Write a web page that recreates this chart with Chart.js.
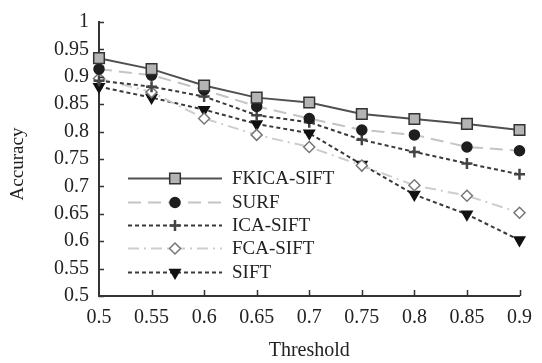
<!DOCTYPE html>
<html>
<head>
<meta charset="utf-8">
<script src="https://cdn.jsdelivr.net/npm/chart.js@4"></script>
<style>
  html, body { margin: 0; padding: 0; background: #fff; }
  #wrap { width: 542px; height: 363px; }
</style>
</head>
<body>
<div id="wrap"><canvas id="chart" width="542" height="363"></canvas></div>
<script>
// data
const thresholds = ['0.5', '0.55', '0.6', '0.65', '0.7', '0.75', '0.8', '0.85', '0.9'];
const yTickLabels = ['0.5', '0.55', '0.6', '0.65', '0.7', '0.75', '0.8', '0.85', '0.9', '0.95', '1'];
const fkicaSift = [0.934, 0.914, 0.884, 0.862, 0.853, 0.832, 0.823, 0.814, 0.803];
const surf = [0.914, 0.903, 0.876, 0.846, 0.824, 0.803, 0.794, 0.772, 0.765];
const icaSift = [0.893, 0.882, 0.864, 0.830, 0.817, 0.785, 0.763, 0.742, 0.722];
const fcaSift = [0.897, 0.872, 0.824, 0.794, 0.772, 0.738, 0.702, 0.683, 0.652];
const sift = [0.882, 0.862, 0.840, 0.814, 0.797, 0.740, 0.685, 0.649, 0.602];

const FONT = '"Liberation Serif", "Times New Roman", serif';
const TEXT = '#222';

const series = [
  { label: 'FKICA-SIFT', data: fkicaSift, line: '#505050', dash: [], width: 2,
    marker: 'rect', radius: 7.5, fill: '#b4b4b4', edge: '#333', rot: 0 },
  { label: 'SURF', data: surf, line: '#c4c4c4', dash: [13, 7], width: 2,
    marker: 'circle', radius: 5, fill: '#1e1e1e', edge: '#1e1e1e', rot: 0 },
  { label: 'ICA-SIFT', data: icaSift, line: '#3a3a3a', dash: [4, 3], width: 2,
    marker: 'cross', radius: 5.5, fill: '#444', edge: '#444', rot: 0 },
  { label: 'FCA-SIFT', data: fcaSift, line: '#cdcdcd', dash: [11, 5, 2, 5], width: 2,
    marker: 'rectRot', radius: 5.5, fill: '#fff', edge: '#777', rot: 0 },
  { label: 'SIFT', data: sift, line: '#3a3a3a', dash: [4, 3], width: 2,
    marker: 'triangle', radius: 6, fill: '#111', edge: '#111', rot: 180 }
];

// little ticks pointing into the plot + the rotated y title
const innerTicks = {
  id: 'innerTicks',
  afterDraw(chart) {
    const ctx = chart.ctx;
    const xs = chart.scales.x, ys = chart.scales.y;
    const a = chart.chartArea;
    ctx.save();
    ctx.strokeStyle = '#333';
    ctx.lineWidth = 1.5;
    ctx.beginPath();
    yTickLabels.forEach(t => {
      const py = Math.round(ys.getPixelForValue(parseFloat(t))) + 0.5;
      ctx.moveTo(a.left, py);
      ctx.lineTo(a.left + 5, py);
    });
    thresholds.forEach((t, i) => {
      if (i === 0) return;
      const px = Math.round(xs.getPixelForValue(i)) + 0.5;
      ctx.moveTo(px, a.bottom);
      ctx.lineTo(px, a.bottom - 6);
    });
    ctx.stroke();

    ctx.translate(18, 164);
    ctx.rotate(-Math.PI / 2);
    ctx.fillStyle = TEXT;
    ctx.font = '19px ' + FONT;
    ctx.textAlign = 'center';
    ctx.textBaseline = 'middle';
    ctx.fillText('Accuracy', 0, 0);
    ctx.restore();
  }
};

function drawMarker(ctx, s, x, y) {
  const r = s.radius;
  ctx.save();
  ctx.fillStyle = s.fill;
  ctx.strokeStyle = s.edge;
  ctx.lineWidth = s.marker === 'cross' ? 2.5 : 1.5;
  ctx.setLineDash([]);
  ctx.beginPath();
  if (s.marker === 'rect') {
    const h = r * Math.SQRT1_2;
    ctx.rect(x - h, y - h, 2 * h, 2 * h);
    ctx.fill(); ctx.stroke();
  } else if (s.marker === 'circle') {
    ctx.arc(x, y, r, 0, Math.PI * 2);
    ctx.fill(); ctx.stroke();
  } else if (s.marker === 'cross') {
    ctx.moveTo(x - r, y); ctx.lineTo(x + r, y);
    ctx.moveTo(x, y - r); ctx.lineTo(x, y + r);
    ctx.stroke();
  } else if (s.marker === 'rectRot') {
    ctx.moveTo(x, y - r); ctx.lineTo(x + r, y); ctx.lineTo(x, y + r); ctx.lineTo(x - r, y);
    ctx.closePath();
    ctx.fill(); ctx.stroke();
  } else if (s.marker === 'triangle') {
    ctx.moveTo(x, y + r);
    ctx.lineTo(x + r * 0.866, y - r / 2);
    ctx.lineTo(x - r * 0.866, y - r / 2);
    ctx.closePath();
    ctx.fill(); ctx.stroke();
  }
  ctx.restore();
}

const legendBox = {
  id: 'legendBox',
  afterDraw(chart) {
    const ctx = chart.ctx;
    const x0 = 128, x1 = 222, xm = 175, xt = 232;
    const rows = [178, 202, 225, 248, 272];
    ctx.save();
    series.forEach((s, i) => {
      const y = rows[i] + 0.5;
      ctx.strokeStyle = s.line;
      ctx.lineWidth = s.width;
      ctx.setLineDash(s.dash);
      ctx.beginPath();
      ctx.moveTo(x0, y);
      ctx.lineTo(x1, y);
      ctx.stroke();
      drawMarker(ctx, s, xm, y);
      ctx.setLineDash([]);
      ctx.fillStyle = TEXT;
      ctx.font = '19px ' + FONT;
      ctx.textBaseline = 'middle';
      ctx.textAlign = 'left';
      ctx.fillText(s.label, xt, y + 1);
    });
    ctx.restore();
  }
};

const datasets = series.map(s => ({
  label: s.label,
  data: s.data,
  borderColor: s.line,
  borderWidth: s.width,
  borderDash: s.dash,
  pointStyle: s.marker,
  pointRadius: s.radius,
  pointRotation: s.rot,
  pointBackgroundColor: s.fill,
  pointBorderColor: s.edge,
  pointBorderWidth: s.marker === 'cross' ? 2.5 : 1.5,
  fill: false,
  tension: 0
}));

new Chart(document.getElementById('chart'), {
  type: 'line',
  data: { labels: thresholds, datasets: datasets },
  options: {
    responsive: false,
    animation: false,
    layout: { padding: { top: 15, right: 12, left: 0, bottom: 0 } },
    plugins: {
      legend: { display: false },
      tooltip: { enabled: false }
    },
    scales: {
      x: {
        type: 'category',
        offset: false,
        grid: { display: true, drawOnChartArea: false, drawTicks: false },
        border: { display: true, color: '#333', width: 2 },
        ticks: { color: TEXT, font: { family: FONT, size: 20 }, padding: 10, maxRotation: 0, autoSkip: false },
        title: { display: true, text: 'Threshold', color: TEXT, font: { family: FONT, size: 20 }, padding: { top: 4, bottom: 0 } },
        afterFit(scale) { scale.height = 67; }
      },
      y: {
        min: 0.5,
        max: 1,
        grid: { display: true, drawOnChartArea: false, drawTicks: false },
        border: { display: true, color: '#333', width: 2 },
        ticks: {
          stepSize: 0.05,
          color: TEXT,
          font: { family: FONT, size: 20 },
          padding: 10,
          callback: (v, i) => yTickLabels[i]
        },
        afterFit(scale) { scale.width = 99; }
      }
    }
  },
  plugins: [innerTicks, legendBox]
});
</script>
</body>
</html>
